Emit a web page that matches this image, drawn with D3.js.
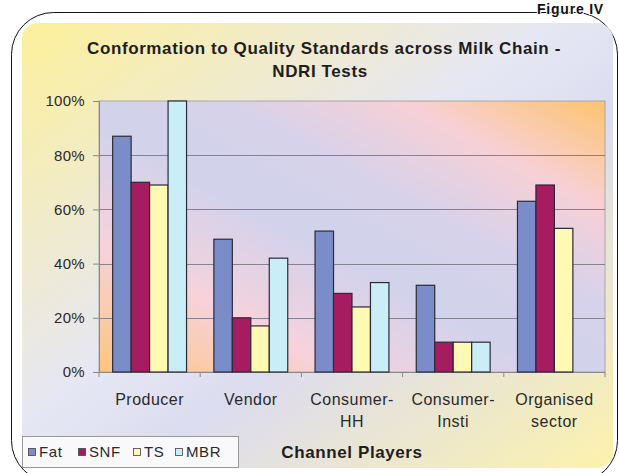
<!DOCTYPE html>
<html>
<head>
<meta charset="utf-8">
<script src="https://cdn.jsdelivr.net/npm/d3@7"></script>
<style>
  body { margin: 0; background: #fff; }
  text { font-family: Arial, "Liberation Sans", sans-serif; }
</style>
</head>
<body>
<div id="chart"></div>
<script>
(function(){

    var width = 619;
    var height = 473;

    // data (percent)
    var categories = ["Producer", "Vendor", "Consumer-HH", "Consumer-Insti", "Organised sector"];
    var catLabels = [["Producer"], ["Vendor"], ["Consumer-", "HH"], ["Consumer-", "Insti"], ["Organised", "sector"]];
    var seriesNames = ["Fat", "SNF", "TS", "MBR"];
    var fat = [87, 49, 52, 32, 63];
    var snf = [70, 20, 29, 11, 69];
    var ts  = [69, 17, 24, 11, 53];
    var mbr = [100, 42, 33, 11, null];
    var yTicks = [0, 20, 40, 60, 80, 100];

    var colors = ["#7b8dc9", "#a51d60", "#fff9b4", "#c9eef8"];
    var series = [fat, snf, ts, mbr];

    // plot box
    var plot = {left: 99, top: 101, right: 605, bottom: 372};

    var svg = d3.select("#chart")
        .append("svg")
        .attr("width", width)
        .attr("height", height);

    var defs = svg.append("defs");

    // chart area background: yellow -> pale lavender -> yellow along the diagonal
    var g1 = defs.append("linearGradient").attr("id", "chartBg")
        .attr("x1", 0).attr("y1", 0).attr("x2", 1).attr("y2", 1);
    g1.append("stop").attr("offset", "0").attr("stop-color", "#fdf09a");
    g1.append("stop").attr("offset", "0.45").attr("stop-color", "#e6e7f4");
    g1.append("stop").attr("offset", "0.6").attr("stop-color", "#dcdcf0");
    g1.append("stop").attr("offset", "1").attr("stop-color", "#fcf2ac");

    // plot area: orange corners (bottom-left, top-right), lavender in the middle
    var g2 = defs.append("linearGradient").attr("id", "plotBg")
        .attr("x1", 0).attr("y1", 1).attr("x2", 1).attr("y2", 0);
    g2.append("stop").attr("offset", "0").attr("stop-color", "#ffc47e");
    g2.append("stop").attr("offset", "0.24").attr("stop-color", "#f6d2dc");
    g2.append("stop").attr("offset", "0.45").attr("stop-color", "#d2d2ec");
    g2.append("stop").attr("offset", "0.62").attr("stop-color", "#d6d2ea");
    g2.append("stop").attr("offset", "0.8").attr("stop-color", "#f7d0d6");
    g2.append("stop").attr("offset", "1").attr("stop-color", "#fdc46e");

    // outer frame
    svg.append("rect")
        .attr("x", 11.5).attr("y", 12.5)
        .attr("width", 606).attr("height", 470)
        .attr("rx", 42).attr("ry", 42)
        .attr("fill", "#fff")
        .attr("stroke", "#111")
        .attr("stroke-width", 1);

    // chart area
    svg.append("rect")
        .attr("x", 22).attr("y", 23)
        .attr("width", 591).attr("height", 445)
        .attr("rx", 16).attr("ry", 16)
        .attr("fill", "url(#chartBg)");

    // "Figure IV" at the top edge, with a white halo over the frame line
    svg.append("text")
        .attr("x", 604).attr("y", 14)
        .attr("text-anchor", "end")
        .attr("font-size", 14)
        .attr("font-weight", "bold")
        .attr("letter-spacing", 0.8)
        .attr("fill", "#111")
        .attr("stroke", "#fff")
        .attr("stroke-width", 2)
        .attr("paint-order", "stroke")
        .text("Figure IV");

    // scales
    var x0 = d3.scaleBand()
        .domain(categories)
        .range([plot.left, plot.right])
        .paddingInner(0.27)
        .paddingOuter(0.135);

    var x1 = d3.scaleBand()
        .domain(seriesNames)
        .range([0, x0.bandwidth()]);

    var y = d3.scaleLinear()
        .domain([0, 100])
        .range([plot.bottom, plot.top]);

    // plot background
    svg.append("rect")
        .attr("x", plot.left).attr("y", plot.top)
        .attr("width", plot.right - plot.left)
        .attr("height", plot.bottom - plot.top)
        .attr("fill", "url(#plotBg)")
        .attr("stroke", "#a8a6a8")
        .attr("stroke-width", 1);

    // gridlines
    svg.append("g")
        .selectAll("line")
        .data(yTicks.filter(function(d) { return d > 0 && d < 100; }))
        .enter()
        .append("line")
        .attr("x1", plot.left).attr("x2", plot.right)
        .attr("y1", function(d) { return Math.round(y(d)) + 0.5; })
        .attr("y2", function(d) { return Math.round(y(d)) + 0.5; })
        .attr("stroke", "#858391")
        .attr("stroke-width", 1.2);

    // y axis
    var yAxis = svg.append("g")
        .attr("transform", "translate(" + plot.left + ",0)")
        .call(d3.axisLeft(y)
            .tickValues(yTicks)
            .tickSize(6)
            .tickPadding(8)
            .tickFormat(function(d) { return d + "%"; }));
    yAxis.select(".domain").attr("stroke", "#8a8a8a");
    yAxis.selectAll(".tick line").attr("stroke", "#8a8a8a");
    yAxis.selectAll(".tick text")
        .attr("font-size", 15)
        .attr("font-family", "Arial, 'Liberation Sans', sans-serif")
        .attr("letter-spacing", 0.3)
        .attr("fill", "#2a2a2a");

    // x axis: ticks on the category boundaries
    var xAxis = svg.append("g")
        .attr("transform", "translate(0," + plot.bottom + ")");
    xAxis.append("line")
        .attr("x1", plot.left).attr("x2", plot.right)
        .attr("y1", 0.5).attr("y2", 0.5)
        .attr("stroke", "#8a8a8a");
    var bounds = categories.map(function(c) { return x0(c) - x0.step() * x0.paddingInner() / 2; });
    bounds.push(plot.right);
    xAxis.selectAll(".xtick")
        .data(bounds)
        .enter()
        .append("line")
        .attr("class", "xtick")
        .attr("x1", function(d) { return d; })
        .attr("x2", function(d) { return d; })
        .attr("y1", 0).attr("y2", 5)
        .attr("stroke", "#8a8a8a");

    // category labels
    var labels = svg.append("g")
        .selectAll("text")
        .data(categories)
        .enter()
        .append("text")
        .attr("text-anchor", "middle")
        .attr("font-size", 16)
        .attr("letter-spacing", 0.5)
        .attr("fill", "#2a2a2a")
        .attr("x", function(d) { return x0(d) + x0.bandwidth() / 2; })
        .attr("y", 405);
    labels.selectAll("tspan")
        .data(function(d, i) { return catLabels[i]; })
        .enter()
        .append("tspan")
        .attr("x", function() { return this.parentNode.getAttribute("x"); })
        .attr("dy", function(d, i) { return i === 0 ? 0 : 22; })
        .text(function(d) { return d; });

    // bars
    var groups = svg.append("g")
        .selectAll("g")
        .data(categories)
        .enter()
        .append("g")
        .attr("transform", function(d) { return "translate(" + x0(d) + ",0)"; });

    groups.selectAll("rect")
        .data(function(d, ci) {
            return seriesNames.map(function(s, si) {
                return {key: s, value: series[si][ci], color: colors[si]};
            }).filter(function(e) { return e.value != null; });
        })
        .enter()
        .append("rect")
        .attr("x", function(d) { return x1(d.key); })
        .attr("y", function(d) { return y(d.value); })
        .attr("width", x1.bandwidth())
        .attr("height", function(d) { return plot.bottom - y(d.value); })
        .attr("fill", function(d) { return d.color; })
        .attr("stroke", "#2a2a38")
        .attr("stroke-width", 1.2);

    // title
    var title = svg.append("text")
        .attr("text-anchor", "middle")
        .attr("font-size", 17)
        .attr("font-weight", "bold")
        .attr("letter-spacing", 0.6)
        .attr("fill", "#1e1e1e")
        .attr("x", 324).attr("y", 54);
    title.append("tspan").attr("x", 324).attr("dy", 0)
        .text("Conformation to Quality Standards across Milk Chain -");
    title.append("tspan").attr("x", 320).attr("dy", 23)
        .text("NDRI Tests");

    // axis title
    svg.append("text")
        .attr("text-anchor", "middle")
        .attr("font-size", 17)
        .attr("font-weight", "bold")
        .attr("letter-spacing", 0.6)
        .attr("fill", "#1e1e1e")
        .attr("x", (plot.left + plot.right) / 2)
        .attr("y", 458)
        .text("Channel Players");

    // legend
    var legend = svg.append("g");
    legend.append("rect")
        .attr("x", 22.5).attr("y", 436.5)
        .attr("width", 216).attr("height", 31)
        .attr("fill", "#f9f9fb")
        .attr("stroke", "#9a9a9a");
    var legendX = [28, 78, 133, 175];
    var items = legend.selectAll(".item")
        .data(seriesNames)
        .enter()
        .append("g")
        .attr("class", "item")
        .attr("transform", function(d, i) { return "translate(" + legendX[i] + ",0)"; });
    items.append("rect")
        .attr("x", 0.5).attr("y", 448.5)
        .attr("width", 7).attr("height", 7)
        .attr("fill", function(d, i) { return colors[i]; })
        .attr("stroke", "#444")
        .attr("stroke-width", 0.8);
    items.append("text")
        .attr("x", 11).attr("y", 457)
        .attr("font-size", 15)
        .attr("letter-spacing", 0.6)
        .attr("fill", "#2a2a2a")
        .text(function(d) { return d; });

})();
</script>
</body>
</html>
